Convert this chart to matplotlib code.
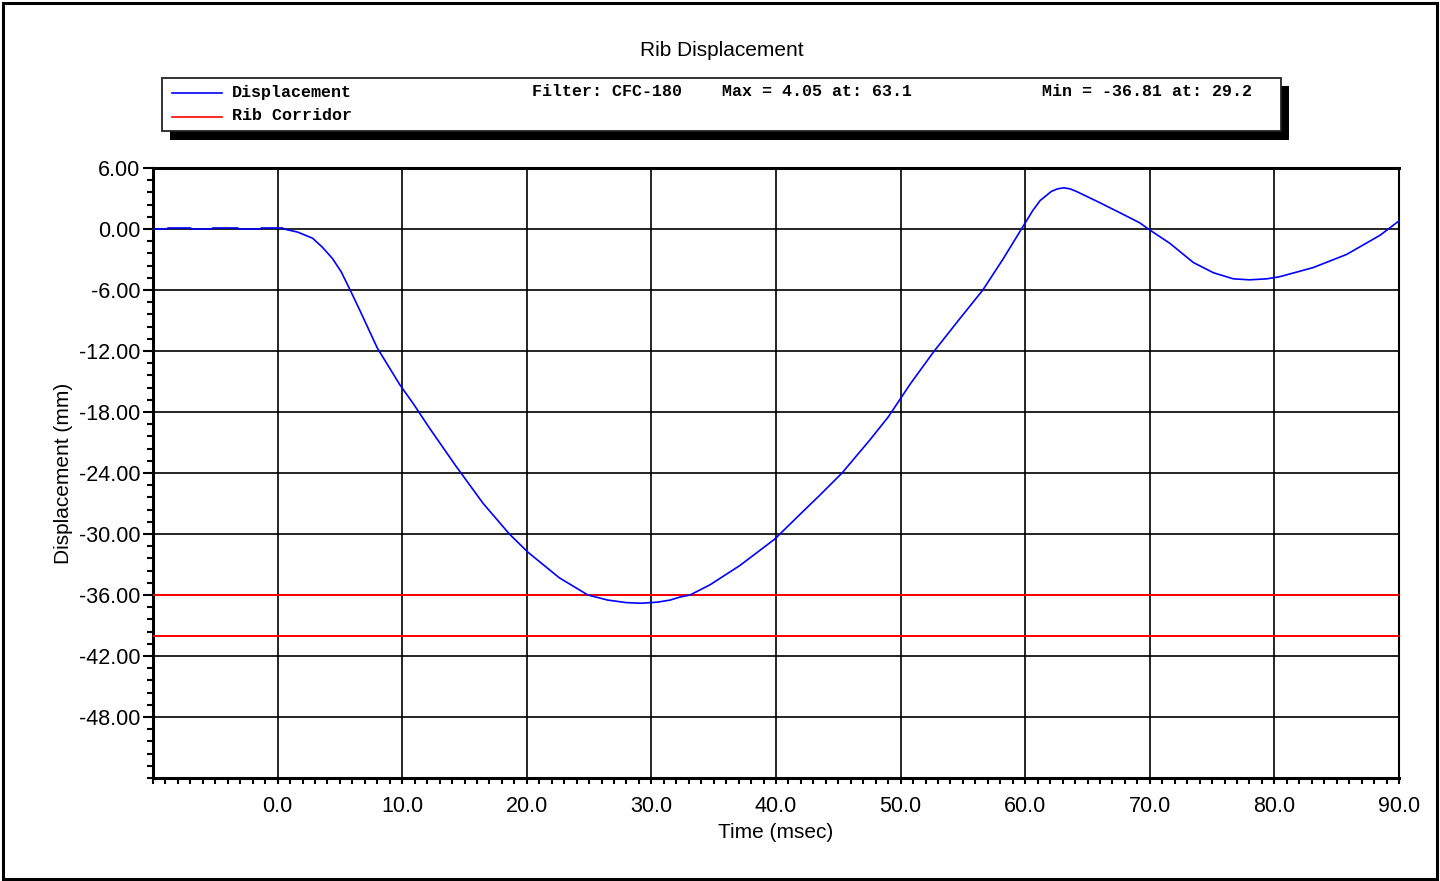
import matplotlib.pyplot as plt
from matplotlib.patches import Rectangle
from matplotlib.lines import Line2D
from matplotlib.ticker import MultipleLocator, FormatStrFormatter
import numpy as np

W, H = 1440, 881

time_ms = [-10.0, -8.9, -8.8, -7.0, -6.9, -5.3, -5.2, -3.2, -3.1, -1.4, -1.3, 0.4, 0.5,
           1.6, 2.8, 3.6, 4.4, 5.1, 5.9, 6.6, 8.0, 9.8, 10.9, 12.2, 14.3, 16.5, 18.6,
           20.1, 22.6, 24.9, 26.5, 28.0, 29.2, 30.5, 31.5, 32.3, 33.1, 34.7, 37.1,
           39.9, 41.9, 43.5, 45.3, 47.5, 49.0, 50.8, 52.7, 54.7, 56.6, 58.2, 59.6,
           60.0, 60.6, 61.2, 62.1, 62.6, 63.1, 63.6, 64.1, 65.8, 67.6, 69.2, 70.0,
           71.6, 73.5, 75.1, 76.7, 78.0, 79.4, 80.4, 83.1, 85.8, 88.5, 90.0]
displacement = [0.0, 0.0, 0.1, 0.1, 0.0, 0.0, 0.1, 0.1, 0.0, 0.0, 0.1, 0.1, 0.0,
                -0.3, -0.9, -1.8, -2.9, -4.2, -6.2, -8.0, -11.7, -15.3, -17.2, -19.6, -23.3, -27.0, -30.0,
                -31.8, -34.3, -36.0, -36.5, -36.75, -36.81, -36.7, -36.5, -36.2, -36.0, -35.0, -33.1,
                -30.5, -28.1, -26.2, -24.0, -20.8, -18.5, -15.2, -12.0, -8.9, -6.0, -3.0, -0.2,
                0.6, 1.8, 2.8, 3.7, 3.95, 4.05, 3.95, 3.7, 2.7, 1.6, 0.6, -0.1,
                -1.4, -3.3, -4.3, -4.9, -5.0, -4.9, -4.7, -3.8, -2.5, -0.6, 0.8]
corridor = [-36.0, -40.0]

legend_entries = ["Displacement", "Rib Corridor"]
legend_info = ["Filter: CFC-180", "Max = 4.05 at: 63.1", "Min = -36.81 at: 29.2"]


def fx(px):
    return px / W


def fy(py):
    return 1 - py / H


plt.rcParams["font.family"] = ["Liberation Sans", "DejaVu Sans"]

fig = plt.figure(figsize=(W / 100, H / 100), dpi=100)
ax = fig.add_axes([fx(153), fy(778), fx(1399) - fx(153), fy(168) - fy(778)])

ax.plot(time_ms, displacement, color="#0000ff", lw=1.2, zorder=4)
for level in corridor:
    ax.axhline(level, color="#ff0000", lw=1.4, zorder=3)

ax.set_xlim(-10, 90)
ax.set_ylim(-54, 6)
ax.set_xticks(np.arange(0, 91, 10))
ax.xaxis.set_minor_locator(MultipleLocator(1))
ax.set_yticks(np.arange(-48, 7, 6))
ax.yaxis.set_minor_locator(MultipleLocator(1.2))
ax.xaxis.set_major_formatter(FormatStrFormatter("%.1f"))
ax.yaxis.set_major_formatter(FormatStrFormatter("%.2f"))

ax.grid(True, which="major", color="black", lw=1.2, zorder=2)
ax.set_axisbelow(True)
ax.tick_params(axis="x", which="both", direction="out", length=4, width=1.5,
               labelsize=15.5, pad=9)
ax.tick_params(axis="y", which="major", direction="out", length=7, width=1.5,
               labelsize=15.5, pad=2)
ax.tick_params(axis="y", which="minor", direction="out", length=4, width=1.5)

for side in ["left", "bottom", "top"]:
    ax.spines[side].set_linewidth(2.2)
ax.spines["right"].set_linewidth(1.5)

ax.set_xlabel("Time (msec)", fontsize=15, labelpad=4)
ax.set_ylabel("Displacement (mm)", fontsize=15, labelpad=4)

fig.text(fx(722), fy(50), "Rib Displacement", fontsize=15, ha="center", va="center")

# legend box with drop shadow
fig.add_artist(Rectangle((fx(170), fy(140)), fx(1289) - fx(170), fy(86) - fy(140),
                         facecolor="black", edgecolor="none"))
fig.add_artist(Rectangle((fx(162), fy(131)), fx(1281) - fx(162), fy(78) - fy(131),
                         facecolor="white", edgecolor="#222222", lw=1.3))

mono = dict(family="Liberation Mono", fontweight="bold", fontsize=12, va="center")
for i, (label, color) in enumerate(zip(legend_entries, ["#0000ff", "#ff0000"])):
    y = 93 + 24 * i
    fig.add_artist(Line2D([fx(172), fx(222)], [fy(y), fy(y)], color=color, lw=1.2))
    fig.text(fx(232), fy(y - 1), label, **mono)
for px, text in zip([532, 722, 1042], legend_info):
    fig.text(fx(px), fy(92), text, **mono)

# outer frame
fig.add_artist(Rectangle((fx(3), fy(879)), fx(1437) - fx(3), fy(3) - fy(879),
                         facecolor="none", edgecolor="black", lw=2.2))

fig.savefig("out.png", dpi=100)
